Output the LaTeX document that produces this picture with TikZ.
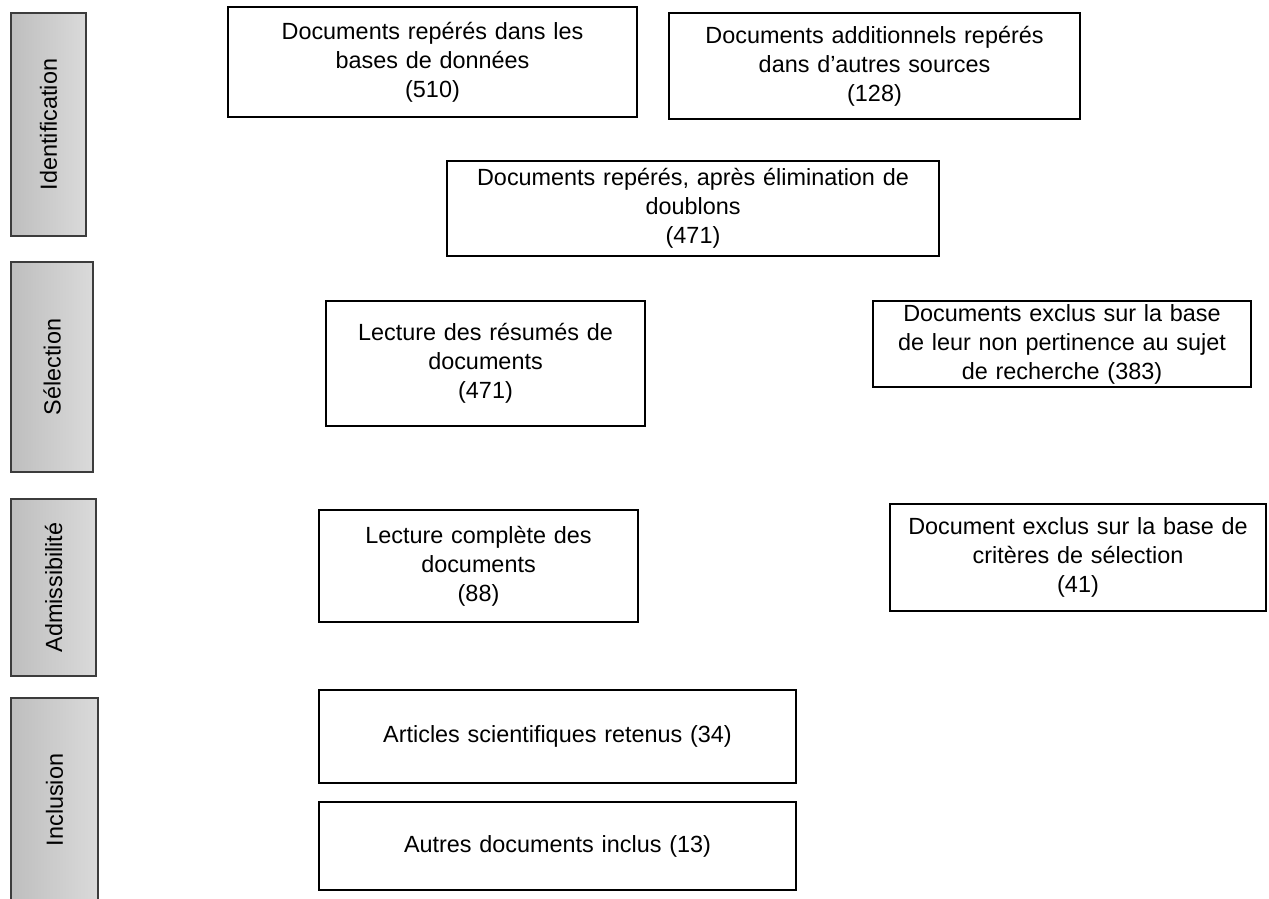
\documentclass[tikz,border=0pt]{standalone}
\usepackage{fontspec}
\setmainfont{Liberation Sans}
\definecolor{barlight}{RGB}{218,218,218}
\definecolor{bardark}{RGB}{190,190,190}
\definecolor{barline}{RGB}{60,60,60}
\tikzset{
  docbox/.style={draw, line width=2pt, align=center, inner sep=0pt},
  stagebar/.style={draw=barline, line width=1.2pt, rotate=90, left color=bardark, right color=barlight, inner sep=0pt}
}
\begin{document}
\begin{tikzpicture}[x=1pt, y=-1pt, font=\fontsize{23.4}{29}\selectfont]
    \useasboundingbox (0,0) rectangle (1269,899);
    % phases
    \node[stagebar, minimum width=223pt, minimum height=75pt] (ident) at (48.5,124.5) {Identification};
    \node[stagebar, minimum width=210pt, minimum height=82pt] (select) at (52,367) {Sélection};
    \node[stagebar, minimum width=177pt, minimum height=85pt] (admis) at (53.5,587.5) {Admissibilité};
    \node[stagebar, minimum width=204pt, minimum height=87pt] (incl) at (54.5,800) {Inclusion};
    % boxes
    \node[docbox, text width=409pt, minimum height=110pt] (bases) at (432.5,62) {Documents repérés dans les\\bases de données\\(510)};
    \node[docbox, text width=411pt, minimum height=106pt] (autres) at (874.5,66) {Documents additionnels repérés\\dans d’autres sources\\(128)};
    \node[docbox, text width=492pt, minimum height=95pt] (doublons) at (693,208.5) {Documents repérés, après élimination de\\doublons\\(471)};
    \node[docbox, text width=319pt, minimum height=125pt] (resumes) at (485.5,363.5) {Lecture des résumés de\\documents\\(471)};
    \node[docbox, text width=378pt, minimum height=86pt] (exclus1) at (1062,344) {Documents exclus sur la base\\de leur non pertinence au sujet\\de recherche (383)};
    \node[docbox, text width=319pt, minimum height=112pt] (complete) at (478.5,566) {Lecture complète des\\documents\\(88)};
    \node[docbox, text width=376pt, minimum height=107pt] (exclus2) at (1078,557.5) {Document exclus sur la base de\\critères de sélection\\(41)};
    \node[docbox, text width=477pt, minimum height=93pt] (articles) at (557.5,736.5) {Articles scientifiques retenus (34)};
    \node[docbox, text width=477pt, minimum height=88pt] (inclus) at (557.5,846) {Autres documents inclus (13)};
\end{tikzpicture}
\end{document}
